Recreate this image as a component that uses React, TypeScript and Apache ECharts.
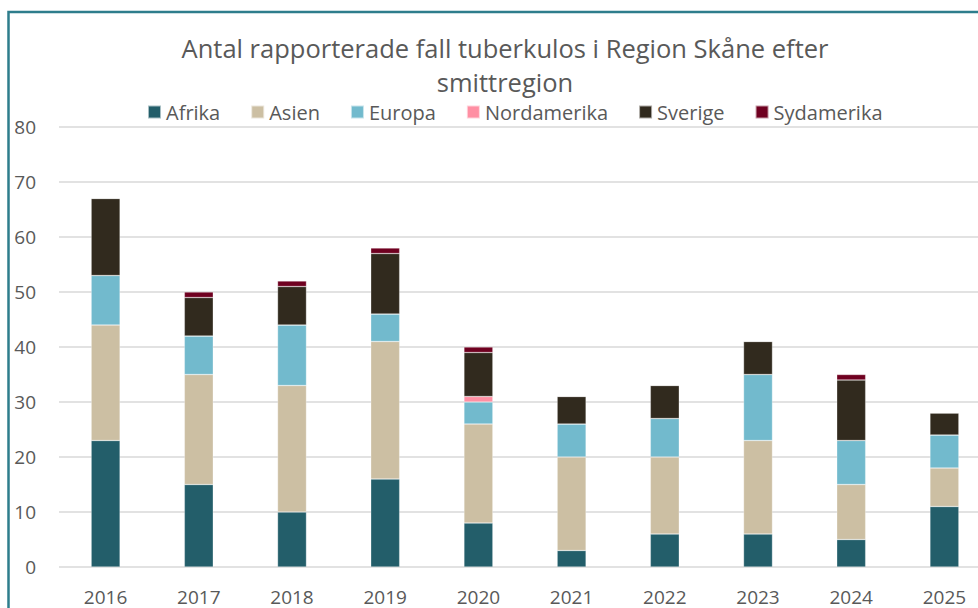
import React, { useEffect, useRef } from "react";
import * as echarts from "echarts";

const years = ["2016", "2017", "2018", "2019", "2020", "2021", "2022", "2023", "2024", "2025"];
const afrika = [23, 15, 10, 16, 8, 3, 6, 6, 5, 11];
const asien = [21, 20, 23, 25, 18, 17, 14, 17, 10, 7];
const europa = [9, 7, 11, 5, 4, 6, 7, 12, 8, 6];
const nordamerika = [0, 0, 0, 0, 1, 0, 0, 0, 0, 0];
const sverige = [14, 7, 7, 11, 8, 5, 6, 6, 11, 4];
const sydamerika = [0, 1, 1, 1, 1, 0, 0, 0, 1, 0];

const FONT = "'Open Sans', 'Noto Sans', sans-serif";
const TXT = "#595959";

export default function App() {
  const ref = useRef<HTMLDivElement>(null);
  useEffect(() => {
    const chart = echarts.init(ref.current!, null, { renderer: "svg" });
    const mk = (name: string, data: number[], color: string) => ({
      name,
      type: "bar",
      stack: "total",
      data,
      barWidth: "31%",
      itemStyle: { color, borderColor: "rgba(255,255,255,0.6)", borderWidth: 0.5 },
      emphasis: { disabled: true },
    });
    chart.setOption({
      animation: false,
      textStyle: { fontFamily: FONT },
      title: {
        text: "Antal rapporterade fall tuberkulos i Region Skåne efter\nsmittregion",
        left: "center",
        top: 26,
        textStyle: { fontFamily: FONT, fontSize: 25.5, fontWeight: "normal", color: TXT, lineHeight: 34 },
      },
      legend: {
        top: 97,
        left: 142,
        itemWidth: 13,
        itemHeight: 13,
        itemGap: 30,
        icon: "rect",
        textStyle: { fontFamily: FONT, fontSize: 20, color: TXT },
        data: ["Afrika", "Asien", "Europa", "Nordamerika", "Sverige", "Sydamerika"],
      },
      grid: { left: 59, right: 19, top: 127, bottom: 73, containLabel: false },
      xAxis: {
        type: "category",
        data: years,
        axisLine: { show: false },
        axisTick: { show: false },
        axisLabel: { color: TXT, fontSize: 19, fontFamily: FONT, margin: 20 },
      },
      yAxis: {
        type: "value",
        min: 0,
        max: 80,
        interval: 10,
        axisLine: { show: false },
        axisTick: { show: false },
        axisLabel: { color: TXT, fontSize: 19, fontFamily: FONT, margin: 23 },
        splitLine: { lineStyle: { color: "#d9d9d9", width: 1.5 } },
      },
      graphic: [
        {
          type: "rect",
          shape: { x: 8.5, y: 12, width: 1100, height: 700 },
          style: { fill: "none", stroke: "#2e7d8c", lineWidth: 2.5 },
          silent: true,
        },
      ],
      series: [
        mk("Afrika", afrika, "#235e6a"),
        mk("Asien", asien, "#ccbfa3"),
        mk("Europa", europa, "#72bacd"),
        mk("Nordamerika", nordamerika, "#ff8fa3"),
        mk("Sverige", sverige, "#312a1e"),
        mk("Sydamerika", sydamerika, "#6f0020"),
      ],
    });
    return () => chart.dispose();
  }, []);
  return (
    <div style={{ position: "fixed", left: 0, top: 0, width: 978, height: 608, overflow: "hidden", background: "#fff" }}>
      <div ref={ref} style={{ width: 1010, height: 640 }} />
    </div>
  );
}
